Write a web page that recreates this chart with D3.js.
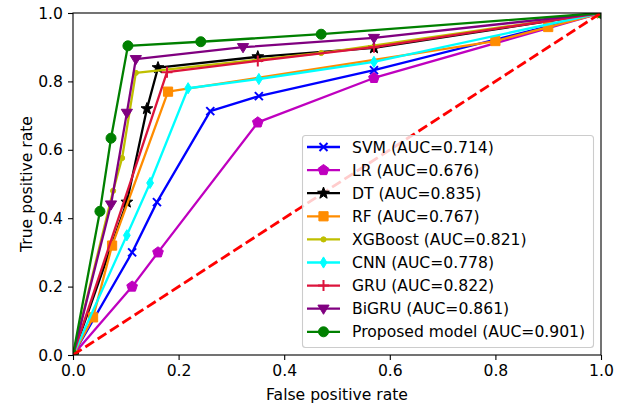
<!DOCTYPE html>
<html>
<head>
<meta charset="utf-8">
<script src="https://cdn.jsdelivr.net/npm/d3@7"></script>
<style>
  body { margin: 0; background: #fff; }
  svg { display: block; }
  text { font-family: "DejaVu Sans", sans-serif; }
</style>
</head>
<body>
<svg width="624" height="405"></svg>
<script>
// ROC points (fpr, tpr)
var names = ["SVM", "LR", "DT", "RF", "XGBoost", "CNN", "GRU", "BiGRU", "Proposed model"];
var aucs = [0.714, 0.676, 0.835, 0.767, 0.821, 0.778, 0.822, 0.861, 0.901];

var svmFpr = [0, 0.112, 0.159, 0.26, 0.352, 0.57, 1];
var svmTpr = [0, 0.30, 0.447, 0.713, 0.757, 0.833, 1];
var lrFpr = [0, 0.112, 0.161, 0.35, 0.57, 1];
var lrTpr = [0, 0.20, 0.30, 0.68, 0.81, 1];
var dtFpr = [0, 0.102, 0.14, 0.161, 0.35, 0.57, 1];
var dtTpr = [0, 0.447, 0.72, 0.84, 0.872, 0.898, 1];
var rfFpr = [0, 0.038, 0.074, 0.18, 0.80, 0.90, 1];
var rfTpr = [0, 0.11, 0.32, 0.77, 0.918, 0.959, 1];
var xgbFpr = [0, 0.076, 0.093, 0.119, 0.47, 1];
var xgbTpr = [0, 0.48, 0.576, 0.825, 0.883, 1];
var cnnFpr = [0, 0.102, 0.146, 0.218, 0.352, 0.57, 1];
var cnnTpr = [0, 0.35, 0.503, 0.78, 0.807, 0.857, 1];
var gruFpr = [0, 0.178, 0.35, 0.57, 1];
var gruTpr = [0, 0.827, 0.86, 0.90, 1];
var bigruFpr = [0, 0.072, 0.102, 0.119, 0.322, 0.57, 1];
var bigruTpr = [0, 0.44, 0.708, 0.865, 0.90, 0.927, 1];
var propFpr = [0, 0.051, 0.072, 0.104, 0.242, 0.47, 1];
var propTpr = [0, 0.42, 0.634, 0.904, 0.916, 0.938, 1];

var xTicks = [0, 0.2, 0.4, 0.6, 0.8, 1.0];
var yTicks = [0, 0.2, 0.4, 0.6, 0.8, 1.0];

var fprs = [svmFpr, lrFpr, dtFpr, rfFpr, xgbFpr, cnnFpr, gruFpr, bigruFpr, propFpr];
var tprs = [svmTpr, lrTpr, dtTpr, rfTpr, xgbTpr, cnnTpr, gruTpr, bigruTpr, propTpr];
var colors = ["#0000ff", "#bf00bf", "#000000", "#ff8c00", "#bfbf00", "#00ffff", "#dc143c", "#800080", "#008000"];
var markers = ["x", "p", "*", "s", ".", "d", "+", "v", "o"];

var svg = d3.select("svg");
var pLeft = 73, pRight = 601, pTop = 13, pBottom = 355;
var fs = 15.6;

var x = d3.scaleLinear().domain([0, 1]).range([pLeft, pRight]);
var y = d3.scaleLinear().domain([0, 1]).range([pBottom, pTop]);

svg.append("defs").append("clipPath").attr("id", "plotclip")
  .append("rect").attr("x", pLeft).attr("y", pTop)
  .attr("width", pRight - pLeft).attr("height", pBottom - pTop);

function polyPath(n, r, rot) {
  var pts = [];
  for (var i = 0; i < n; i++) {
    var a = rot + i * 2 * Math.PI / n;
    pts.push([r * Math.sin(a), -r * Math.cos(a)]);
  }
  return "M" + pts.map(function(p) { return p[0].toFixed(2) + "," + p[1].toFixed(2); }).join("L") + "Z";
}

function starPath(ro, ri) {
  var pts = [];
  for (var i = 0; i < 10; i++) {
    var r = i % 2 ? ri : ro;
    var a = i * Math.PI / 5;
    pts.push([r * Math.sin(a), -r * Math.cos(a)]);
  }
  return "M" + pts.map(function(p) { return p[0].toFixed(2) + "," + p[1].toFixed(2); }).join("L") + "Z";
}

function markerPath(m) {
  switch (m) {
    case "o": return d3.symbol(d3.symbolCircle, Math.PI * 25)();
    case "s": return "M-4.6,-4.6h9.2v9.2h-9.2z";
    case "v": return "M0,5.6L-5.6,-3.6L5.6,-3.6Z";
    case "p": return polyPath(5, 5.6, 0);
    case "*": return starPath(6.2, 2.6);
    case "d": return "M0,-5.6L3.4,0L0,5.6L-3.4,0Z";
    case ".": return d3.symbol(d3.symbolCircle, Math.PI * 2.6 * 2.6)();
    case "x": return "M-4,-4L4,4M-4,4L4,-4";
    case "+": return "M-5.5,0H5.5M0,-5.5V5.5";
  }
}

function drawMarker(g, m, col) {
  var open = (m === "x" || m === "+");
  return g.append("path")
    .attr("d", markerPath(m))
    .attr("fill", open ? "none" : col)
    .attr("stroke", col)
    .attr("stroke-width", open ? 2 : 1);
}

var plot = svg.append("g").attr("clip-path", "url(#plotclip)");

var line = d3.line().x(function(d) { return x(d[0]); }).y(function(d) { return y(d[1]); });

names.forEach(function(name, i) {
  var pts = fprs[i].map(function(f, j) { return [f, tprs[i][j]]; });
  var g = plot.append("g");
  g.append("path").datum(pts)
    .attr("d", line)
    .attr("fill", "none")
    .attr("stroke", colors[i])
    .attr("stroke-width", 2.3)
    .attr("stroke-linejoin", "round");
  pts.forEach(function(p) {
    drawMarker(g, markers[i], colors[i])
      .attr("transform", "translate(" + x(p[0]) + "," + y(p[1]) + ")");
  });
});

// chance diagonal
plot.append("line")
  .attr("x1", x(0)).attr("y1", y(0)).attr("x2", x(1)).attr("y2", y(1))
  .attr("stroke", "#ff0000").attr("stroke-width", 2.8)
  .attr("stroke-dasharray", "10.3,4.4");

// axes
var xAxis = svg.append("g").attr("transform", "translate(0," + pBottom + ")")
  .call(d3.axisBottom(x).tickValues(xTicks).tickFormat(d3.format(".1f")).tickSize(5).tickPadding(5));
var yAxis = svg.append("g").attr("transform", "translate(" + pLeft + ",0)")
  .call(d3.axisLeft(y).tickValues(yTicks).tickFormat(d3.format(".1f")).tickSize(5).tickPadding(5));
[xAxis, yAxis].forEach(function(a) {
  a.select(".domain").remove();
  a.selectAll("line").attr("stroke", "#000").attr("stroke-width", 1.1);
  a.selectAll("text").attr("font-size", fs).attr("fill", "#000")
    .attr("font-family", "DejaVu Sans, sans-serif");
});

svg.append("rect").attr("x", pLeft).attr("y", pTop)
  .attr("width", pRight - pLeft).attr("height", pBottom - pTop)
  .attr("fill", "none").attr("stroke", "#000").attr("stroke-width", 1.1);

svg.append("text").attr("x", (pLeft + pRight) / 2).attr("y", 400)
  .attr("text-anchor", "middle").attr("font-size", fs).text("False positive rate");
svg.append("text").attr("transform", "translate(32," + (pTop + pBottom) / 2 + ") rotate(-90)")
  .attr("text-anchor", "middle").attr("font-size", fs).text("True positive rate");

// legend
var lg = svg.append("g");
lg.append("rect").attr("x", 302.5).attr("y", 135.5).attr("width", 291).attr("height", 212)
  .attr("rx", 3).attr("fill", "#fff").attr("fill-opacity", 0.8)
  .attr("stroke", "#cccccc").attr("stroke-width", 1.1);
names.forEach(function(name, i) {
  var yy = 147 + i * 23.1;
  lg.append("line").attr("x1", 307).attr("x2", 340).attr("y1", yy).attr("y2", yy)
    .attr("stroke", colors[i]).attr("stroke-width", 2.3);
  drawMarker(lg, markers[i], colors[i]).attr("transform", "translate(323.5," + yy + ")");
  lg.append("text").attr("x", 352).attr("y", yy + 5.5).attr("font-size", fs)
    .text(name + " (AUC=" + aucs[i].toFixed(3) + ")");
});
</script>
</body>
</html>
